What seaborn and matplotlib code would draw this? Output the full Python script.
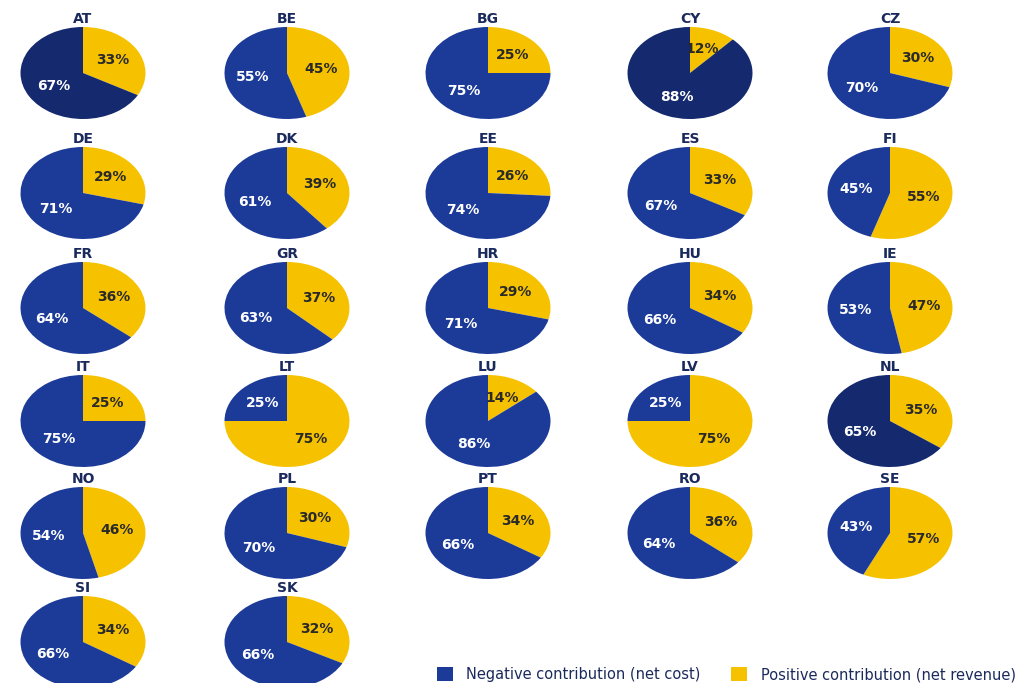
import matplotlib
matplotlib.use("Agg")
import matplotlib.pyplot as plt
from matplotlib.patches import Patch
import seaborn as sns

sns.set_theme(style="white")
plt.rcParams['font.family'] = ['DejaVu Sans']

countries = ["AT", "BE", "BG", "CY", "CZ",
             "DE", "DK", "EE", "ES", "FI",
             "FR", "GR", "HR", "HU", "IE",
             "IT", "LT", "LU", "LV", "NL",
             "NO", "PL", "PT", "RO", "SE",
             "SI", "SK"]
negative = [67, 55, 75, 88, 70,
            71, 61, 74, 67, 45,
            64, 63, 71, 66, 53,
            75, 25, 86, 25, 65,
            54, 70, 66, 64, 43,
            66, 66]
positive = [33, 45, 25, 12, 30,
            29, 39, 26, 33, 55,
            36, 37, 29, 34, 47,
            25, 75, 14, 75, 35,
            46, 30, 34, 36, 57,
            34, 32]
dark_shade = ["AT", "CY", "NL"]
legend_labels = ["Negative contribution (net cost)", "Positive contribution (net revenue)"]

BLUE = "#1c3b98"
DARK_BLUE = "#14296e"
YELLOW = "#f6c200"
TITLE = "#1b2a5c"

W, H = 1022, 683
fig = plt.figure(figsize=(W / 100, H / 100), dpi=100)
fig.patch.set_facecolor("white")

col_x = [83, 287, 488, 690, 890]
row_y = [73, 193, 308, 421, 533, 642]
pw, ph = 125, 92


def make_fmt(vals):
    total = sum(vals)
    return lambda p: f"{round(p * total / 100):.0f}%"


for i, c in enumerate(countries):
    r, k = divmod(i, 5)
    cx, cy = col_x[k], row_y[r]
    ax = fig.add_axes([(cx - pw / 2) / W, 1 - (cy + ph / 2) / H, pw / W, ph / H])
    neg_col = DARK_BLUE if c in dark_shade else BLUE
    vals = [positive[i], negative[i]]
    wedges, texts, autotexts = ax.pie(
        vals, colors=[YELLOW, neg_col], startangle=90, counterclock=False,
        autopct=make_fmt(vals), pctdistance=0.55,
        wedgeprops=dict(linewidth=0))
    autotexts[0].set_color("#2a2a2a")
    autotexts[1].set_color("white")
    for t in autotexts:
        t.set_fontsize(10)
        t.set_fontweight("bold")
    ax.set_aspect("auto")
    ax.set_xlim(-1.0, 1.0)
    ax.set_ylim(-1.0, 1.0)
    ax.set_title(c, fontsize=10, fontweight="bold", color=TITLE, pad=3)

handles = [Patch(facecolor=BLUE, edgecolor="none"), Patch(facecolor=YELLOW, edgecolor="none")]
fig.legend(handles, legend_labels, loc="lower left", bbox_to_anchor=(0.415, -0.018),
           ncol=2, frameon=False, fontsize=10.5, handlelength=1.1, handleheight=1.1,
           columnspacing=2.1, handletextpad=0.9, labelcolor=TITLE)

fig.savefig("out.png", dpi=100, facecolor="white")
